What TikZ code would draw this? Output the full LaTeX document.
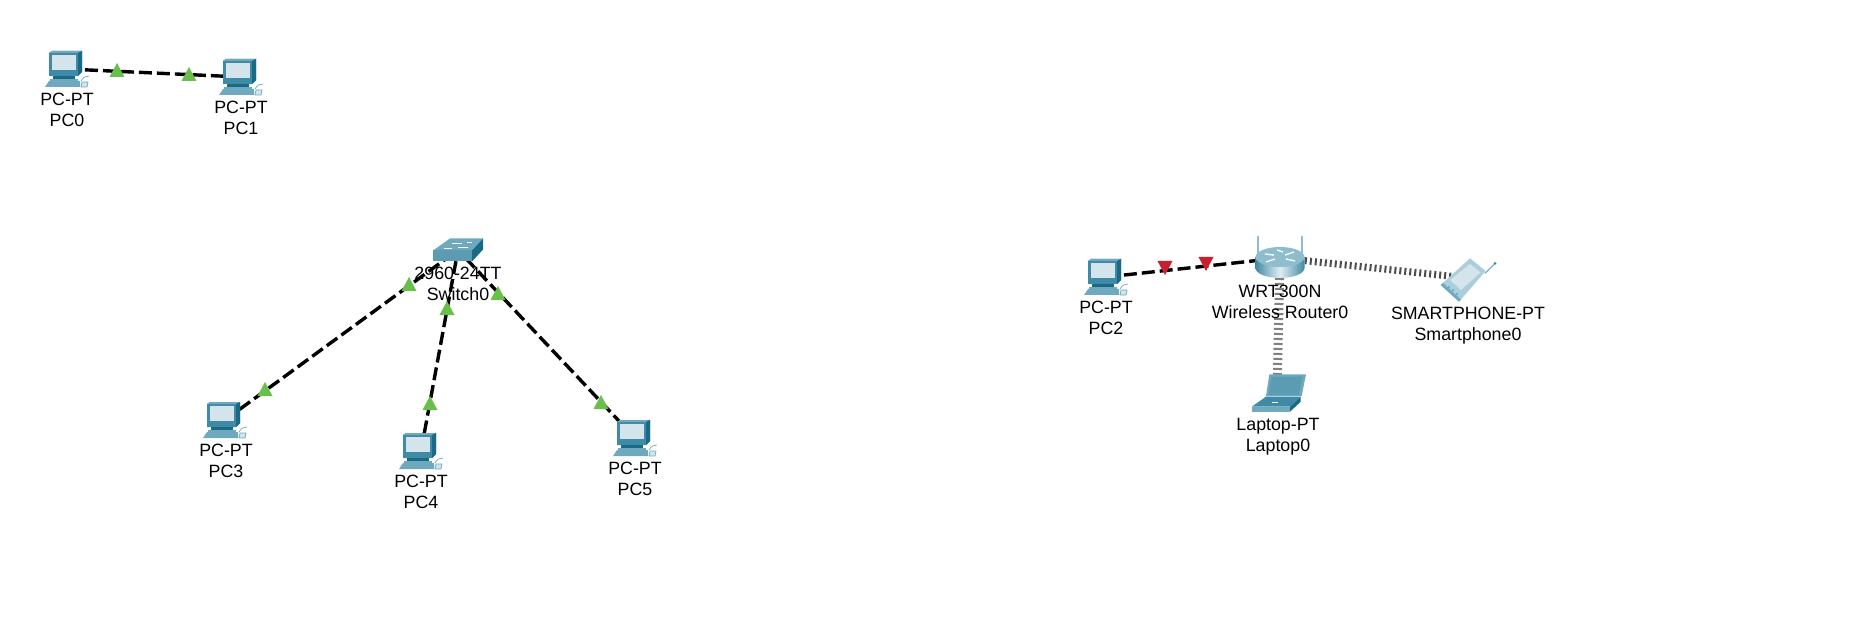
\documentclass[tikz,border=0pt]{standalone}
\usepackage{fontspec}
\setmainfont{Liberation Sans}
\definecolor{teal}{HTML}{3F8AA5}
\definecolor{tealdark}{HTML}{1B6A85}
\definecolor{teallight}{HTML}{6FA9BD}
\definecolor{tealpale}{HTML}{8EBDCD}
\definecolor{screen}{HTML}{D3E4EC}
\definecolor{upgreen}{HTML}{6ABF4B}
\definecolor{downred}{HTML}{C8202F}
\tikzset{
  x=1pt,y=-1pt,
  devbox/.style={inner sep=0pt,minimum size=2pt},
  lab/.style={inner sep=0pt,text height=12.6pt,text depth=0pt,font=\fontsize{17.8pt}{21pt}\selectfont},
  wired/.style={draw=black,line width=3.4pt,dash pattern=on 13pt off 5pt},
  wireless/.style={draw=#1,dash pattern=on 2pt off 3pt},
  pcicon/.pic={
    \begin{scope}[shift={(-22,-18)}]
      \fill[teal] (4,2) -- (7,0) -- (37,0) -- (37,21) -- (33,25) -- (4,25) -- cycle;
      \fill[teallight] (4,2) -- (7,0) -- (37,0) -- (33,2) -- cycle;
      \fill[tealdark] (33,2) -- (37,0) -- (37,21) -- (33,25) -- cycle;
      \fill[screen] (6.5,4) rectangle (31,19);
      \fill[tealdark] (8,25) rectangle (30,28);
      \fill[teallight] (5,28) rectangle (33,30);
      \fill[teallight] (0,36) -- (4,30) -- (35,30) -- (35,36) -- cycle;
      \draw[teallight,line width=.7pt] (36,30) .. controls (38,26) and (41,25) .. (44,25);
      \draw[teallight,fill=screen,line width=.7pt] (37,31) -- (43,31) -- (42,36) -- (36,36) -- cycle;
    \end{scope}
  },
  switchicon/.pic={
    \begin{scope}[shift={(0,6.5)}]
    \fill[teallight] (-25,-6) -- (-8,-18) -- (25,-18) -- (14,-6) -- cycle;
    \fill[teal!85!white] (-25,-6) rectangle (14,5);
    \fill[tealdark] (14,-6) -- (25,-18) -- (25,-7) -- (14,5) -- cycle;
    \draw[white,line width=.9pt] (-6,-13) -- (4,-13) (9,-14) -- (14,-14) (-14,-8) -- (-6,-8) (0,-9) -- (10,-9);
    \end{scope}
  },
  routericon/.pic={
    \draw[tealpale,line width=1.8pt] (-22,-22) -- (-22,-5) (22,-22) -- (22,-5);
    \shade[left color=teal,right color=teal,middle color=white!85!teal]
      (-24.5,-1) -- (-24.5,10) arc[start angle=180,end angle=0,x radius=24.5,y radius=10]
      -- (24.5,-1) -- cycle;
    \fill[tealpale] (0,-1) ellipse[x radius=24.5,y radius=10];
    \draw[white,line width=1.4pt] (-15,-4) -- (-6,-3) (-14,4) -- (-5,1) (5,-3) -- (14,-6) (6,1) -- (15,3) (-3,-8) -- (3,-6);
  },
  laptopicon/.pic={
    \fill[teallight] (-7.7,-18.7) -- (29,-18.7) -- (24.7,3) -- (-11,3) -- cycle;
    \fill[teal!85!white] (-5.3,-16.3) -- (25.7,-16.3) -- (22,2) -- (-8.7,2) -- cycle;
    \fill[teal] (-11,3.7) -- (23.7,3.7) -- (13,13.7) -- (-25.3,13.7) -- cycle;
    \fill[teallight] (-25.3,13.7) rectangle (13,18.7);
    \fill[tealdark] (13,13.7) -- (23.7,3.7) -- (23.7,8.7) -- (13,18.7) -- cycle;
    \draw[white,line width=.8pt] (-5,9) -- (1,9);
  },
  phoneicon/.pic={
    \begin{scope}[shift={(0,2)}]
    \draw[teallight,line width=1pt] (17,-6.7) -- (27,-16.7);
    \fill[teal] (27,-16.7) circle[radius=1.5];
    \fill[tealpale!75!white] (2,-21.7) -- (17.7,-9) -- (-9,21.7) -- (-27.3,5) -- cycle;
    \fill[teallight] (-27.3,5) -- (-9,21.7) -- (-7,19.5) -- (-25,3) -- cycle;
    \fill[screen] (2,-16) -- (12.7,-7.7) -- (-7,10) -- (-18,0) -- cycle;
    \fill[teal] (-19,7) circle[radius=.8] (-15,10) circle[radius=.8] (-11,14) circle[radius=.8];
    \end{scope}
  },
  uptri/.pic={\fill[upgreen] (0,-7) -- (7.5,7) -- (-7.5,7) -- cycle;},
  downtri/.pic={\fill[downred] (0,7) -- (7.5,-7) -- (-7.5,-7) -- cycle;}
}
\begin{document}
\begin{tikzpicture}
\useasboundingbox[fill=white] (0,0) rectangle (1871,620);
% anchors of the devices
\node[devbox] (pc0) at (67,69) {};
\node[devbox] (pc1) at (241,77) {};
\node[devbox] (pc3) at (225,420) {};
\node[devbox] (pc4) at (421,451) {};
\node[devbox] (pc5) at (635,438) {};
\node[devbox] (pc2) at (1106,277) {};
\node[devbox] (sw) at (458,250) {};
\node[devbox] (rt) at (1280,258) {};
\node[devbox] (lap) at (1277,393) {};
\node[devbox] (ph) at (1468,278) {};
% connectors
\draw[wired] (pc0.center) -- (pc1.center);
\draw[wired] (pc3.center) -- (sw.center);
\draw[wired] (pc4.center) -- (sw.center);
\draw[wired] (pc5.center) -- (sw.center);
\draw[wired] (pc2.center) -- (rt.center);
\draw[wireless=gray,line width=9pt] (rt.center) -- (lap.center);
\draw[wireless=gray!60!black,line width=7pt] (rt.center) -- (ph.center);
% icons
\pic at (pc0) {pcicon};
\pic at (pc1) {pcicon};
\pic at (pc3) {pcicon};
\pic at (pc4) {pcicon};
\pic at (pc5) {pcicon};
\pic at (pc2) {pcicon};
\pic at (sw) {switchicon};
\pic at (rt) {routericon};
\pic at (lap) {laptopicon};
\pic at (ph) {phoneicon};
% labels
\node[lab] (l0a) at (67,99) {PC-PT};
\node[lab] (l0b) at (67,120) {PC0};
\node[lab] (l1a) at (241,107) {PC-PT};
\node[lab] (l1b) at (241,128) {PC1};
\node[lab] (l3a) at (226,450) {PC-PT};
\node[lab] (l3b) at (226,471) {PC3};
\node[lab] (l4a) at (421,481) {PC-PT};
\node[lab] (l4b) at (421,502) {PC4};
\node[lab] (l5a) at (635,468) {PC-PT};
\node[lab] (l5b) at (635,489) {PC5};
\node[lab] (l2a) at (1106,307) {PC-PT};
\node[lab] (l2b) at (1106,328) {PC2};
\node[lab] (swa) at (458,273) {2960-24TT};
\node[lab] (swb) at (458,294) {Switch0};
\node[lab] (rta) at (1280,291) {WRT300N};
\node[lab] (rtb) at (1280,312) {Wireless Router0};
\node[lab] (lapa) at (1278,424) {Laptop-PT};
\node[lab] (lapb) at (1278,445) {Laptop0};
\node[lab] (pha) at (1468,313) {SMARTPHONE-PT};
\node[lab] (phb) at (1468,334) {Smartphone0};
% packet indicators
\pic at (117,70) {uptri};
\pic at (189,74) {uptri};
\pic at (265,389) {uptri};
\pic at (409,284) {uptri};
\pic at (447,308) {uptri};
\pic at (430,403) {uptri};
\pic at (498,293) {uptri};
\pic at (601,402) {uptri};
\pic at (1165,268) {downtri};
\pic at (1206,264) {downtri};
\end{tikzpicture}
\end{document}
